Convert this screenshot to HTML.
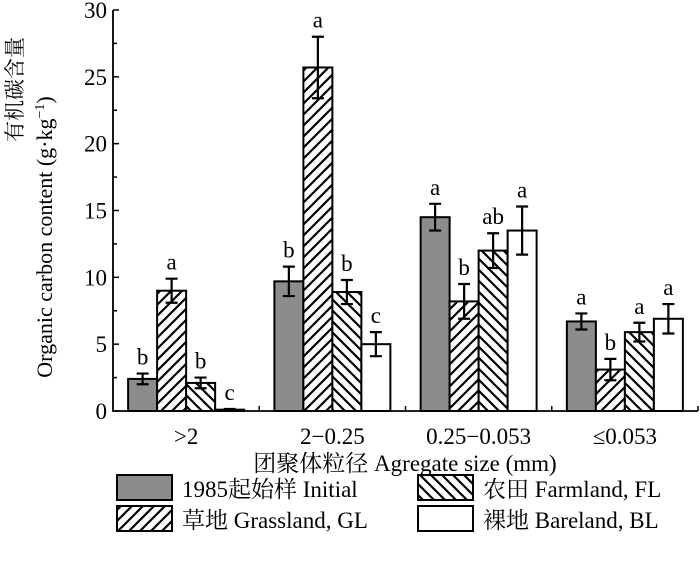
<!DOCTYPE html>
<html><head><meta charset="utf-8"><style>
body{margin:0;background:#fff;}
svg text{font-family:"Liberation Serif","Noto Serif CJK SC","Noto Sans CJK SC",serif;fill:#000;}
</style></head><body>
<svg width="700" height="563" viewBox="0 0 700 563" xmlns="http://www.w3.org/2000/svg">
<defs>
<pattern id="pGL" patternUnits="userSpaceOnUse" width="11" height="11">
<rect width="11" height="11" fill="#fff"/>
<path d="M-2,13 L13,-2 M-2,2 L2,-2 M9,13 L13,9" stroke="#000" stroke-width="2.2"/>
</pattern>
<pattern id="pFL" patternUnits="userSpaceOnUse" width="11" height="11">
<rect width="11" height="11" fill="#fff"/>
<path d="M-2,-2 L13,13 M-2,9 L2,13 M9,-2 L13,2" stroke="#000" stroke-width="2.2"/>
</pattern>
</defs>
<g id="plot"></g>
<text x="22" y="142" font-size="21" transform="rotate(-90 22 142)" text-anchor="start">有机碳含量</text>
<text x="52" y="237" font-size="22" transform="rotate(-90 52 237)" text-anchor="middle">Organic carbon content (g·kg<tspan font-size="14" dy="-8">−1</tspan><tspan dy="8">)</tspan></text>
<text x="405" y="471" font-size="23" text-anchor="middle">团聚体粒径 Agregate size (mm)</text>
<g>
<rect x="117" y="475" width="55" height="25" fill="#8c8c8c" stroke="#000" stroke-width="2"/>
<text x="182" y="497" font-size="23">1985起始样 Initial</text>
<rect x="418" y="475" width="55" height="25" fill="url(#pFL)" stroke="#000" stroke-width="2"/>
<text x="483" y="497" font-size="23">农田 Farmland, FL</text>
<rect x="117" y="506" width="55" height="25" fill="url(#pGL)" stroke="#000" stroke-width="2"/>
<text x="182" y="528" font-size="23">草地 Grassland, GL</text>
<rect x="418" y="506" width="55" height="25" fill="#fff" stroke="#000" stroke-width="2"/>
<text x="483" y="528" font-size="23">裸地 Bareland, BL</text>
</g>
</svg>
<script>
const categories = [">2","2−0.25","0.25−0.053","≤0.053"];
const seriesNames = ["initial","grassland","farmland","bareland"];
const initialVals = [2.4, 9.7, 14.5, 6.7];
const grasslandVals = [9.0, 25.7, 8.2, 3.1];
const farmlandVals = [2.1, 8.9, 12.0, 5.9];
const barelandVals = [0.1, 5.0, 13.5, 6.9];
const initialErr = [0.4, 1.1, 1.0, 0.6];
const grasslandErr = [0.9, 2.3, 1.3, 0.8];
const farmlandErr = [0.4, 0.9, 1.3, 0.7];
const barelandErr = [0.05, 0.9, 1.8, 1.1];
const initialSig = ["b","b","a","a"];
const grasslandSig = ["a","a","b","b"];
const farmlandSig = ["b","b","ab","a"];
const barelandSig = ["c","c","a","a"];
const yTicks = [0,5,10,15,20,25,30];

const NS="http://www.w3.org/2000/svg";
const g=document.getElementById('plot');
const x0=113, x1=698, y0=411, yTop=10, yMax=30;
const yS=v=>y0-(v/yMax)*(y0-yTop);
const catW=(x1-x0)/categories.length;
const barW=29;
function mk(t,a){const e=document.createElementNS(NS,t);for(const k in a)e.setAttribute(k,a[k]);g.appendChild(e);return e;}
const vals=[initialVals,grasslandVals,farmlandVals,barelandVals];
const errs=[initialErr,grasslandErr,farmlandErr,barelandErr];
const sigs=[initialSig,grasslandSig,farmlandSig,barelandSig];
const fills=["#8c8c8c","url(#pGL)","url(#pFL)","#fff"];
categories.forEach((c,i)=>{
  const cx=x0+catW*(i+0.5);
  vals.forEach((arr,s)=>{
    const bx=cx-2*barW+s*barW, v=arr[i], top=yS(v);
    const r=mk('rect',{x:bx,y:top,width:barW,height:y0-top,fill:fills[s],stroke:'#000','stroke-width':2});
    
    
    const mx=bx+barW/2, e=errs[s][i], yh=yS(v+e), yl=yS(v-e);
    const eb=mk('path',{d:`M${mx},${yh}V${yl}M${mx-6},${yh}H${mx+6}M${mx-6},${yl}H${mx+6}`,stroke:'#000','stroke-width':2.2,fill:'none'});
    
    
    const t=mk('text',{x:mx,y:yh-9,'font-size':23,'text-anchor':'middle'});
    t.textContent=sigs[s][i];
    
    
  });
  const tl=mk('text',{x:cx,y:444,'font-size':23,'text-anchor':'middle'});
  tl.textContent=c;
  
  
  const tk=mk('line',{x1:x0+catW*(i+1),x2:x0+catW*(i+1),y1:y0,y2:y0-5,stroke:'#000','stroke-width':1.5});
  
  
});
const ax=mk('path',{d:`M${x0},${yTop}V${y0}H${x1}`,stroke:'#000','stroke-width':1.8,fill:'none'});


yTicks.forEach((v,i)=>{
  const y=yS(v);
  const tk=mk('line',{x1:x0,x2:x0+6,y1:y,y2:y,stroke:'#000','stroke-width':1.5});
  
  
  if(i<yTicks.length-1){const m=yS(v+2.5);
    const mt=mk('line',{x1:x0,x2:x0+4,y1:m,y2:m,stroke:'#000','stroke-width':1.5});
    
    }
  const t=mk('text',{x:x0-6,y:y+8,'font-size':23,'text-anchor':'end'});
  t.textContent=v;
  
  
});
</script>
</body></html>
